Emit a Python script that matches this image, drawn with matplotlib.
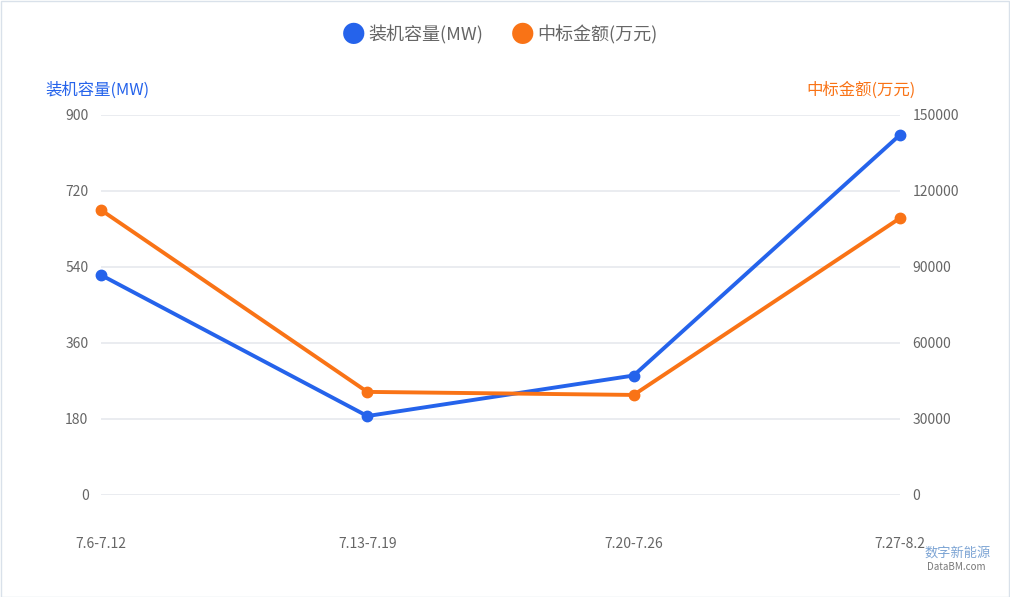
import matplotlib.pyplot as plt
from matplotlib.patches import Rectangle

plt.rcParams['font.family'] = ['Noto Sans CJK SC', 'DejaVu Sans']

# données
categories = ["7.6-7.12", "7.13-7.19", "7.20-7.26", "7.27-8.2"]
capacite_mw = [521, 187, 283, 853]
montant_wan = [112500, 40700, 39500, 109300]

left_ticks = [0, 180, 360, 540, 720, 900]
right_ticks = [0, 30000, 60000, 90000, 120000, 150000]

bleu = "#2563EB"
orange = "#F97316"
gris = "#666666"

fig = plt.figure(figsize=(10.1, 5.97), dpi=100)
ax = fig.add_axes([101 / 1010, 1 - 495 / 597, 799 / 1010, 380 / 597])
ax2 = ax.twinx()

x = list(range(len(categories)))
ax.plot(x, capacite_mw, color=bleu, lw=2.8, marker="o", ms=7.5, zorder=3, clip_on=False)
ax2.plot(x, montant_wan, color=orange, lw=2.8, marker="o", ms=7.5, zorder=3, clip_on=False)

ax.set_xlim(0, 3)
ax.set_ylim(0, 900)
ax2.set_ylim(0, 150000)
ax.set_yticks(left_ticks)
ax2.set_yticks(right_ticks)
ax.set_xticks(x)
ax.set_xticklabels(categories)

ax.grid(axis="y", color="#E6E9EE", lw=1.2)
ax.set_axisbelow(True)
for a in (ax, ax2):
    for s in a.spines.values():
        s.set_visible(False)
    a.tick_params(length=0, labelsize=10, labelcolor=gris)
ax.tick_params(axis="y", pad=9)
ax2.tick_params(axis="y", pad=9)
ax.tick_params(axis="x", pad=30)

# titres des axes
fig.text(45 / 1010, 1 - 90 / 597, "装机容量(MW)", color=bleu, fontsize=11.8, ha="left", va="center")
fig.text(916 / 1010, 1 - 90 / 597, "中标金额(万元)", color=orange, fontsize=11.8, ha="right", va="center")

# légende en haut
fig.text(354 / 1010, 1 - 36 / 597, "●", color=bleu, fontsize=17, ha="center", va="center")
fig.text(368 / 1010, 1 - 35 / 597, "装机容量(MW)", color=gris, fontsize=13, ha="left", va="center")
fig.text(523 / 1010, 1 - 36 / 597, "●", color=orange, fontsize=17, ha="center", va="center")
fig.text(537 / 1010, 1 - 35 / 597, "中标金额(万元)", color=gris, fontsize=13, ha="left", va="center")

# filigrane
fig.text(958 / 1010, 1 - 553 / 597, "数字新能源", color="#5B8DC9", fontsize=9.5, ha="center", va="center", alpha=0.8)
fig.text(956 / 1010, 1 - 567 / 597, "DataBM.com", color="#777777", fontsize=7, ha="center", va="center")

# cadre
fig.patches.append(Rectangle((0.5 / 1010, 0.5 / 597), 1 - 1.5 / 1010, 1 - 1.5 / 597,
                             transform=fig.transFigure, fill=False, edgecolor="#D9E1EA", lw=1))

fig.savefig("out.png", dpi=100)
